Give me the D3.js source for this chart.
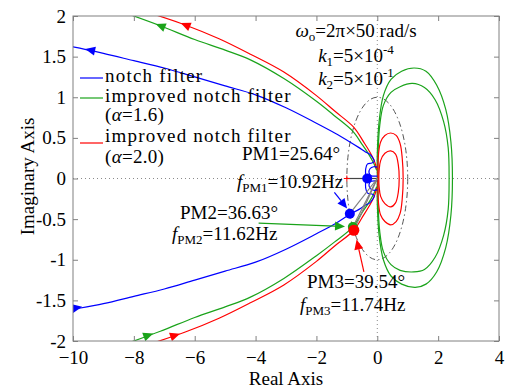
<!DOCTYPE html>
<html><head><meta charset="utf-8">
<script src="https://cdn.jsdelivr.net/npm/d3@7"></script>
<style>
body{margin:0;background:#fff}
svg{display:block}
text{font-family:"Liberation Serif","Times New Roman",serif;fill:#000}
</style>
</head><body>
<svg id="c" width="509" height="392"></svg>
<script>
// ---------------- data ----------------
const xTicks = [-10,-8,-6,-4,-2,0,2,4];
const yTicks = [-2,-1.5,-1,-0.5,0,0.5,1,1.5,2];
const yTickLabels = ["-2","-1.5","-1","-0.5","0","0.5","1","1.5","2"];

// notch filter (blue): upper arm -> hook near origin -> lower arm
const blueCurve = [[-10.3,1.64],[-10,1.62],[-9,1.54],[-8,1.45],[-7,1.36],[-6,1.25],[-5,1.14],[-4,1.03],[-3,0.87],[-2,0.68],[-1.4,0.56],[-0.9,0.45],[-0.6,0.38],[-0.4,0.33],[-0.25,0.30],[-0.14,0.25],[-0.1,0.21],[-0.18,0.19],[-0.32,0.18],[-0.38,0.12],[-0.38,0],[-0.38,-0.12],[-0.32,-0.18],[-0.18,-0.19],[-0.1,-0.21],[-0.14,-0.25],[-0.25,-0.30],[-0.4,-0.33],[-0.6,-0.38],[-0.9,-0.44],[-1.4,-0.56],[-2,-0.68],[-3,-0.87],[-4,-1.03],[-5,-1.14],[-6,-1.25],[-7,-1.36],[-8,-1.45],[-9,-1.54],[-10,-1.61],[-10.3,-1.63]];
const blueLoopUpper = [[0,0.14],[-0.12,0.145],[-0.24,0.12],[-0.27,0.07],[-0.2,0.035],[0,0.03]];
const blueLoopLower = [[0,-0.03],[-0.2,-0.035],[-0.27,-0.07],[-0.24,-0.12],[-0.12,-0.145],[0,-0.14]];

// improved notch filter alpha=1.6 (green)
const greenUpper = [[-8.3,2.04],[-7.13,1.88],[-6,1.71],[-5,1.58],[-4.17,1.46],[-3.07,1.23],[-2,0.95],[-1.4,0.77],[-0.8,0.58],[-0.5,0.42],[-0.3,0.31],[-0.12,0.19],[-0.02,0.1]];
const greenLower = [[-8.3,-2.04],[-7.13,-1.88],[-6,-1.71],[-5,-1.58],[-4.17,-1.46],[-3.07,-1.23],[-2,-0.95],[-1.4,-0.78],[-0.8,-0.595],[-0.5,-0.42],[-0.3,-0.31],[-0.12,-0.19],[-0.02,-0.1]];
const greenOuter = [[1.21,1.36],[1.6,1.32],[1.95,1.15],[2.25,0.85],[2.42,0.45],[2.47,0],[2.42,-0.45],[2.25,-0.85],[1.95,-1.15],[1.6,-1.3],[1.25,-1.34],[0.8,-1.3],[0.45,-1.2],[0.2,-1.0],[0.06,-0.7],[0.0,-0.3],[0.0,0],[0.0,0.3],[0.06,0.7],[0.2,1.02],[0.45,1.22],[0.8,1.32]];
const greenInner = [[1.15,1.17],[1.55,1.12],[1.9,0.97],[2.18,0.7],[2.33,0.38],[2.36,0],[2.33,-0.38],[2.18,-0.7],[1.9,-0.97],[1.55,-1.12],[1.2,-1.15],[0.75,-1.13],[0.45,-1.06],[0.2,-0.9],[0.08,-0.65],[0.03,-0.35],[0.02,0],[0.03,0.35],[0.08,0.65],[0.2,0.9],[0.45,1.06],[0.75,1.13]];

// improved notch filter alpha=2.0 (red)
const redUpper = [[-7.5,2.04],[-6.31,1.89],[-5.2,1.72],[-4.17,1.53],[-3.07,1.31],[-2,1.02],[-1.4,0.83],[-0.77,0.63],[-0.45,0.45],[-0.25,0.33],[-0.1,0.22],[-0.02,0.12]];
const redLower = [[-7.5,-2.04],[-6.31,-1.89],[-5.2,-1.72],[-4.17,-1.53],[-3.07,-1.31],[-2,-1.02],[-1.4,-0.83],[-0.77,-0.637],[-0.45,-0.45],[-0.25,-0.33],[-0.1,-0.22],[-0.02,-0.12]];
const redOuter = [[0.44,0.56],[0.62,0.53],[0.75,0.43],[0.82,0.25],[0.85,0],[0.82,-0.25],[0.75,-0.43],[0.62,-0.53],[0.44,-0.57],[0.25,-0.53],[0.11,-0.45],[0.04,-0.3],[0.02,0],[0.04,0.3],[0.11,0.45],[0.25,0.53]];
const redInner = [[0.44,0.34],[0.6,0.3],[0.69,0.17],[0.72,0],[0.69,-0.17],[0.6,-0.3],[0.44,-0.35],[0.25,-0.31],[0.11,-0.22],[0.06,-0.1],[0.05,0],[0.06,0.1],[0.11,0.22],[0.25,0.31]];

// phase-margin points (on unit circle) and other markers
const pmPoints = [[-0.902,-0.433],[-0.803,-0.597],[-0.771,-0.637]];
const pmColors = ["#0000ff","#1aa31a","#ff0000"];
const blueRealDot = [-0.33,0.0];
const criticalPoint = [-1,0];

const seriesColors = {blue:"#0000ff", green:"#1aa31a", red:"#ff0000"};

// annotation arrows (from -> to), data coords
const annotArrows = [
  {from:[-1.41,-0.17], to:[-0.99,-0.37], c:"#0000ff"},
  {from:[-3.9,-0.55], to:[-1.06,-0.59], c:"#1aa31a"},
  {from:[-0.44,-1.15], to:[-0.68,-0.75], c:"#ff0000"}
];

// ---------------- drawing ----------------
const svg = d3.select("#c");
const FS = 19;
const x = d3.scaleLinear().domain([-10,4]).range([73,499]);
const y = d3.scaleLinear().domain([-2,2]).range([341,16]);

svg.append("clipPath").attr("id","clip").append("rect")
  .attr("x",x(-10)).attr("y",y(2)).attr("width",x(4)-x(-10)).attr("height",y(-2)-y(2));
const plot = svg.append("g").attr("clip-path","url(#clip)");

// zero lines (dotted)
plot.append("line").attr("x1",x(-10)).attr("x2",x(4)).attr("y1",y(0)).attr("y2",y(0))
  .attr("stroke","#8a8a8a").attr("stroke-width",1).attr("stroke-dasharray","1,3");
plot.append("line").attr("x1",x(0)).attr("x2",x(0)).attr("y1",y(-2)).attr("y2",y(2))
  .attr("stroke","#8a8a8a").attr("stroke-width",1).attr("stroke-dasharray","1,3");

// unit circle
plot.append("ellipse").attr("cx",x(0)).attr("cy",y(0))
  .attr("rx",x(1)-x(0)).attr("ry",y(0)-y(1))
  .attr("fill","none").attr("stroke","#555").attr("stroke-width",1)
  .attr("stroke-dasharray","6,3,1.5,3");

const line = d3.line().x(d=>x(d[0])).y(d=>y(d[1])).curve(d3.curveCatmullRom.alpha(0.5));
const closed = d3.line().x(d=>x(d[0])).y(d=>y(d[1])).curve(d3.curveCatmullRomClosed.alpha(0.5));

function path(data, color, isClosed){
  plot.append("path").attr("d", isClosed ? closed(data) : line(data))
    .attr("fill","none").attr("stroke",color).attr("stroke-width",1.2);
}
path(greenOuter, seriesColors.green, true);
path(greenInner, seriesColors.green, true);
path(redOuter, seriesColors.red, true);
path(redInner, seriesColors.red, true);
path(greenUpper, seriesColors.green);
path(greenLower, seriesColors.green);
path(redUpper, seriesColors.red);
path(redLower, seriesColors.red);
path(blueCurve, seriesColors.blue);
path(blueLoopUpper, seriesColors.blue);
path(blueLoopLower, seriesColors.blue);

// reference line to -1 and radial lines to PM points
plot.append("line").attr("x1",x(criticalPoint[0])).attr("y1",y(0)).attr("x2",x(0)).attr("y2",y(0))
  .attr("stroke","#444").attr("stroke-width",1.2);
pmPoints.forEach(p=>{
  plot.append("line").attr("x1",x(0)).attr("y1",y(0)).attr("x2",x(p[0])).attr("y2",y(p[1]))
    .attr("stroke","#808080").attr("stroke-width",1.2);
});
// critical point marker
plot.append("path").attr("d",`M${x(-1)-3},${y(0)}h6M${x(-1)},${y(0)-3}v6`)
  .attr("stroke","#ff0000").attr("stroke-width",1);

// direction arrows on curves
function arrowOn(curve, px, py, sign, color){
  const P = curve.map(d=>[x(d[0]),y(d[1])]);
  const X = x(px), Y = y(py);
  let best=0, bd=1e9;
  for(let i=0;i<P.length-1;i++){
    const mx=(P[i][0]+P[i+1][0])/2, my=(P[i][1]+P[i+1][1])/2;
    const dd=(mx-X)**2+(my-Y)**2;
    if(dd<bd){bd=dd;best=i;}
  }
  const dx=(P[best+1][0]-P[best][0])*sign, dy=(P[best+1][1]-P[best][1])*sign;
  const ang=Math.atan2(dy,dx)*180/Math.PI;
  plot.append("path").attr("d","M5,0L-5,-4.5L-5,4.5Z")
    .attr("transform",`translate(${X},${Y}) rotate(${ang})`)
    .attr("fill",color);
}
arrowOn(blueCurve,-9.44,1.58,-1,seriesColors.blue);
arrowOn(blueCurve,-9.86,-1.59,-1,seriesColors.blue);
arrowOn(greenUpper,-7.13,1.88,-1,seriesColors.green);
arrowOn(greenLower,-7.52,-1.93,1,seriesColors.green);
arrowOn(redUpper,-6.31,1.89,-1,seriesColors.red);
arrowOn(redLower,-6.64,-1.93,1,seriesColors.red);

// dots
plot.append("circle").attr("cx",x(blueRealDot[0])).attr("cy",y(blueRealDot[1])).attr("r",5).attr("fill","#0000ff");
pmPoints.forEach((p,i)=>{
  plot.append("circle").attr("cx",x(p[0])).attr("cy",y(p[1])).attr("r",i===2?5.5:5).attr("fill",pmColors[i]);
});

// annotation arrows
annotArrows.forEach(a=>{
  const x1=x(a.from[0]), y1=y(a.from[1]), x2=x(a.to[0]), y2=y(a.to[1]);
  const ang=Math.atan2(y2-y1,x2-x1);
  const L=10, Wd=4.5;
  const bx=x2-L*Math.cos(ang), by=y2-L*Math.sin(ang);
  svg.append("line").attr("x1",x1).attr("y1",y1).attr("x2",bx).attr("y2",by)
    .attr("stroke",a.c).attr("stroke-width",1.2);
  const px=-Math.sin(ang)*Wd, py=Math.cos(ang)*Wd;
  svg.append("path").attr("d",`M${x2},${y2}L${bx+px},${by+py}L${bx-px},${by-py}Z`).attr("fill",a.c);
});

// box and ticks
svg.append("rect").attr("x",x(-10)).attr("y",y(2)).attr("width",x(4)-x(-10)).attr("height",y(-2)-y(2))
  .attr("fill","none").attr("stroke","#808080").attr("stroke-width",1);

function styleAxis(g){
  g.select(".domain").remove();
  g.selectAll(".tick line").attr("stroke","#808080");
  g.selectAll("text").attr("font-family",'"Liberation Serif","Times New Roman",serif')
    .attr("font-size",FS).attr("fill","#000");
}
svg.append("g").attr("transform",`translate(0,${y(-2)})`)
  .call(d3.axisBottom(x).tickValues(xTicks).tickSize(-5).tickPadding(10).tickFormat(d3.format("d")))
  .call(styleAxis);
svg.append("g").attr("transform",`translate(0,${y(2)})`)
  .call(d3.axisTop(x).tickValues(xTicks).tickSize(-5).tickFormat(""))
  .call(styleAxis);
svg.append("g").attr("transform",`translate(${x(-10)},0)`)
  .call(d3.axisLeft(y).tickValues(yTicks).tickSize(-5).tickPadding(7).tickFormat((d,i)=>yTickLabels[i]))
  .call(styleAxis);
svg.append("g").attr("transform",`translate(${x(4)},0)`)
  .call(d3.axisRight(y).tickValues(yTicks).tickSize(-5).tickFormat(""))
  .call(styleAxis);

// axis titles
svg.append("text").attr("x",(x(-10)+x(4))/2).attr("y",385).attr("text-anchor","middle")
  .attr("font-size",FS).text("Real Axis");
svg.append("text").attr("transform",`translate(34,${y(0)-2}) rotate(-90)`).attr("text-anchor","middle")
  .attr("font-size",FS).text("Imaginary Axis");

// rich text helper
function rich(px, py, parts, anchor, spacing){
  const t = svg.append("text").attr("x",px).attr("y",py).attr("font-size",FS)
    .attr("text-anchor",anchor||"start");
  if(spacing) t.attr("letter-spacing",spacing);
  let shift=0;
  parts.forEach(p=>{
    const flags=(p[1]||"").split(" ");
    const s=t.append("tspan").text(p[0]);
    let target=0;
    if(flags.includes("sub")){target=4; s.attr("font-size",13);}
    if(flags.includes("sup")){target=-8; s.attr("font-size",13);}
    if(flags.includes("it")) s.attr("font-style","italic");
    s.attr("dy",target-shift); shift=target;
  });
}

// parameter text
rich(356,37,[["ω","it"],["o","sub"],["=2π×50 rad/s",""]],"middle");
rich(356,62,[["k","it"],["1","sub"],["=5×10",""],["-4","sup"]],"middle");
rich(356,85,[["k","it"],["2","sub"],["=5×10",""],["-1","sup"]],"middle");

// legend
const legendItems = [
  {c:seriesColors.blue, ly:78, lines:[[["notch filter",""]]]},
  {c:seriesColors.green, ly:98, lines:[[["improved notch filter",""]],[["(",""],["α","it"],["=1.6)",""]]]},
  {c:seriesColors.red, ly:143, lines:[[["improved notch filter",""]],[["(",""],["α","it"],["=2.0)",""]]]}
];
const legendBaselines = [[82],[102,121],[142,163]];
legendItems.forEach((it,i)=>{
  svg.append("line").attr("x1",80).attr("x2",103).attr("y1",it.ly).attr("y2",it.ly)
    .attr("stroke",it.c).attr("stroke-width",1.2);
  it.lines.forEach((ln,j)=>rich(105,legendBaselines[i][j],ln,"start",j===0?1.2:0.3));
});

// PM annotations
rich(242,160,[["PM1=25.64°",""]]);
rich(237,188,[["f","it"],["PM1","sub"],["=10.92Hz",""]]);
rich(180,219,[["PM2=36.63°",""]]);
rich(172,240,[["f","it"],["PM2","sub"],["=11.62Hz",""]]);
rich(307,288,[["PM3=39.54°",""]]);
rich(300,311,[["f","it"],["PM3","sub"],["=11.74Hz",""]]);
</script>
</body></html>
